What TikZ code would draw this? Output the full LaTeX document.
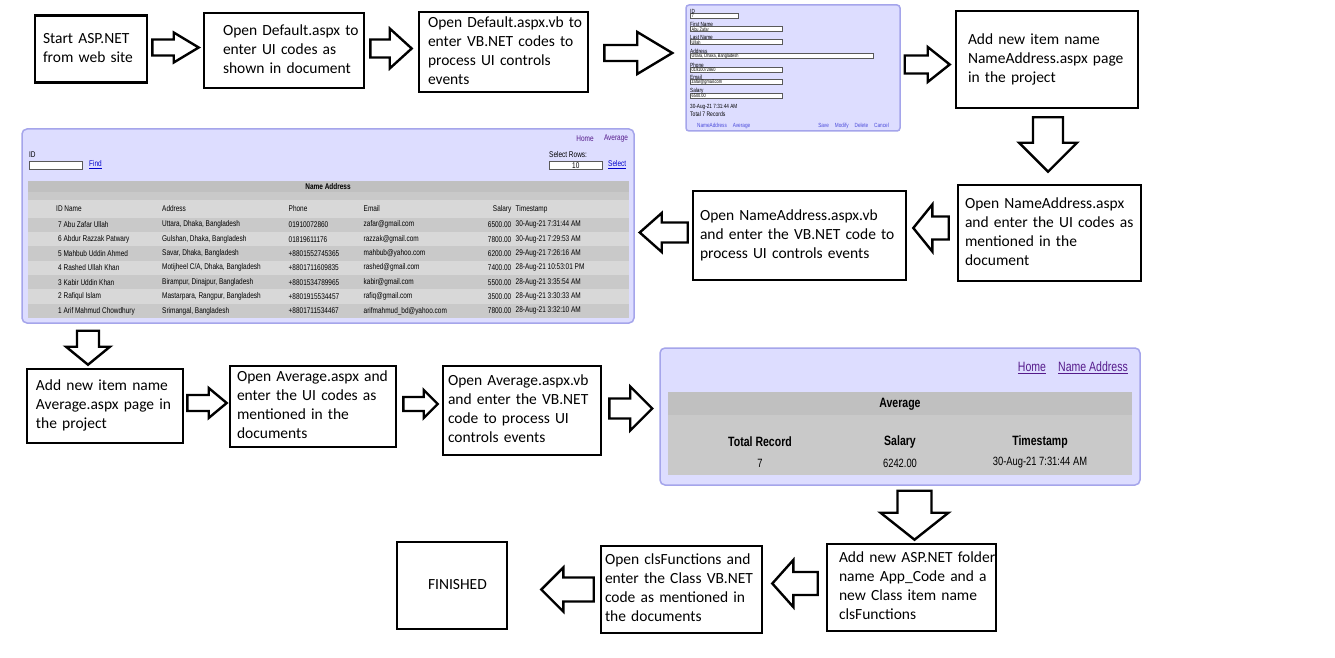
\documentclass[tikz,border=0pt]{standalone}
\usepackage{fontspec}
\usetikzlibrary{calc}
\newfontfamily\flowfont{Carlito}
\newfontfamily\shotfont[FakeStretch=0.78]{Liberation Sans}
\definecolor{shotbg}{RGB}{221,221,255}
\definecolor{shotedge}{RGB}{165,165,235}
\definecolor{bandhead}{RGB}{192,192,192}
\definecolor{banddark}{RGB}{201,201,201}
\definecolor{bandlight}{RGB}{216,216,216}
\definecolor{linkblue}{RGB}{0,0,204}
\definecolor{linkvisit}{RGB}{85,26,139}
\newcommand\boxpad[2]{\parindent=0pt\hspace*{#1pt}\begin{tabular}[c]{@{}l@{}}#2\end{tabular}}

\begin{document}
\begin{tikzpicture}[x=1pt,y=-1pt,
	stepbox/.style 2 args={draw,line width=2.6pt,fill=white,inner xsep=0pt,inner ysep=0pt,align=left,
		text width=#1pt,minimum width=#1pt,minimum height=#2pt,font=\flowfont\fontsize{15.5}{19}\selectfont},
	shot/.style={draw=shotedge,line width=1.5pt,fill=shotbg,rounded corners=5pt,inner sep=0pt},
	formfield/.style={draw=black!65,line width=0.5pt,fill=white,inner sep=0pt},
	shottiny/.style={font=\shotfont\fontsize{6}{7}\selectfont,inner sep=0pt,anchor=west},
	shotsmall/.style={font=\shotfont\fontsize{8.3}{9}\selectfont,inner sep=0pt},
	shotbig/.style={font=\shotfont\fontsize{13.5}{15}\selectfont,inner sep=0pt},
	fat/.style n args={3}{draw,line width=2.4pt,fill=white,
		to path={($(\tikztotarget)!#3pt!(\tikztostart)$) coordinate (fatb)
			($(\tikztostart)!#1pt!90:(\tikztotarget)$) -- ($(fatb)!#1pt!90:(\tikztotarget)$)
			-- ($(fatb)!#2pt!90:(\tikztotarget)$) -- (\tikztotarget)
			-- ($(fatb)!#2pt!-90:(\tikztotarget)$) -- ($(fatb)!#1pt!-90:(\tikztotarget)$)
			-- ($(\tikztostart)!#1pt!-90:(\tikztotarget)$) -- cycle}}]
	\path[use as bounding box,fill=white] (0,0) rectangle (1335,658);

	% steps
	\node[stepbox={112}{67}] (start) at (91,49) {\boxpad{8}{Start ASP.NET\\from web site}};
	\node[stepbox={160}{75}] (default) at (284,50.5) {\boxpad{19}{Open Default.aspx to\\enter UI codes as\\shown in document}};
	\node[stepbox={169}{80}] (defaultvb) at (503.5,52) {\boxpad{9}{Open Default.aspx.vb to\\enter VB.NET codes to\\process UI controls\\events}};
	\node[stepbox={182}{97}] (newna) at (1047,59.5) {\boxpad{12}{Add new item name\\NameAddress.aspx page\\in the project}};
	\node[stepbox={183}{96}] (naopen) at (1049.5,233) {\boxpad{7}{Open NameAddress.aspx\\and enter the UI codes as\\mentioned in the\\document}};
	\node[stepbox={213}{89}] (navb) at (799.5,235.5) {\boxpad{7}{Open NameAddress.aspx.vb\\and enter the VB.NET code to\\process UI controls events}};
	\node[stepbox={156}{74}] (newavg) at (105,406) {\boxpad{9}{Add new item name\\Average.aspx page in\\the project}};
	\node[stepbox={166}{81}] (avgopen) at (313,406.5) {\boxpad{7}{Open Average.aspx and\\enter the UI codes as\\mentioned in the\\documents}};
	\node[stepbox={158}{89}] (avgvb) at (522,410.5) {\boxpad{5}{Open Average.aspx.vb\\and enter the VB.NET\\code to process UI\\controls events}};
	\node[stepbox={169}{87}] (appcode) at (911.5,587.5) {\boxpad{12}{Add new ASP.NET folder\\name App\_Code and a\\new Class item name\\clsFunctions}};
	\node[stepbox={161}{87}] (clsopen) at (681.5,589.5) {\boxpad{4}{Open clsFunctions and\\enter the Class VB.NET\\code as mentioned in\\the documents}};
	\node[stepbox={110}{87}] (finished) at (452,585.5) {\boxpad{31}{FINISHED}};

	% screenshots
	\node[shot,rounded corners=3pt,minimum width=214pt,minimum height=126pt] (form) at (793,68) {};
	\node[shot,minimum width=612pt,minimum height=194pt] (list) at (328,226) {};
	\node[shot,minimum width=480pt,minimum height=137pt] (avgpage) at (900,416.5) {};

	\foreach \flab/\fy/\fw/\fval [count=\i] in {ID/11/48/7, First Name/24/92/Abu Zafar, Last Name/37/92/Ullah,
			Address/51/183/{Uttara, Dhaka, Bangladesh}, Phone/65/92/01910072860, Email/77/92/zafar@gmail.com, Salary/91/92/6500.00}{
		\node[shottiny] (fl\i) at (690,\fy) {\flab};
		\node[formfield,minimum width=\fw pt,minimum height=5pt,anchor=north west] (fb\i) at (690,\fy+2.5) {};
		\node[shottiny,font=\shotfont\fontsize{5}{6}\selectfont] (fv\i) at ($(fb\i.west)+(1.5,0)$) {\fval};
	}
	\node[shottiny] (fstamp) at (690,107) {30-Aug-21 7:31:44 AM};
	\node[shottiny,font=\shotfont\fontsize{6.5}{7}\selectfont] (ftotal) at (690,114.5) {Total 7 Records};
	\node[shottiny,text=linkblue!70] (fnav) at (697,126) {NameAddress\quad Average};
	\node[shottiny,text=linkblue!70,anchor=east] (fcmd) at (889,126) {Save\quad Modify\quad Delete\quad Cancel};

	\node[shotsmall,text=linkvisit] (lhome) at (585,139) {Home};
	\node[shotsmall,text=linkvisit] (laverage) at (616,139) {Average};
	\node[shotsmall,anchor=west] (lid) at (29,155) {ID};
	\node[formfield,minimum width=53pt,minimum height=8pt,anchor=north west] (lidbox) at (29,161) {};
	\node[shotsmall,anchor=west,text=linkblue] (lfind) at (89,165) {\underline{Find}};
	\node[shotsmall,anchor=west] (lrows) at (549,155) {Select Rows:};
	\node[formfield,minimum width=53pt,minimum height=8pt,anchor=north west] (lrowbox) at (549,161) {};
	\node[shotsmall] (lten) at (lrowbox) {10};
	\node[shotsmall,anchor=west,text=linkblue] (lselect) at (608,165) {\underline{Select}};
	\fill[bandhead] (28,181) rectangle (629,192);
	\fill[banddark] (28,192) rectangle (629,200);
	\fill[bandlight] (28,200) rectangle (629,217.6);
	\foreach \k in {0,2,4,6} \fill[banddark] (28,217.6+14.35*\k) rectangle (629,231.95+14.35*\k);
	\foreach \k in {1,3,5} \fill[bandlight] (28,217.6+14.35*\k) rectangle (629,231.95+14.35*\k);
	\node[shotsmall,font=\shotfont\bfseries\fontsize{8.3}{9}\selectfont] (lcap) at (328,186.5) {Name Address};
	\node[shotsmall,anchor=west] (hname) at (56,209) {ID Name};
	\node[shotsmall,anchor=west] (haddr) at (162,209) {Address};
	\node[shotsmall,anchor=west] (hphone) at (288.5,209) {Phone};
	\node[shotsmall,anchor=west] (hmail) at (363.5,209) {Email};
	\node[shotsmall,anchor=east] (hpay) at (511.5,209) {Salary};
	\node[shotsmall,anchor=west] (hstamp) at (515.5,209) {Timestamp};
	\foreach \rname/\raddr/\rphone/\rmail/\rpay/\rstamp [count=\k from 0] in {
			7 Abu Zafar Ullah/{Uttara, Dhaka, Bangladesh}/01910072860/zafar@gmail.com/6500.00/30-Aug-21 7:31:44 AM,
			6 Abdur Razzak Patwary/{Gulshan, Dhaka, Bangladesh}/01819611176/razzak@gmail.com/7800.00/30-Aug-21 7:29:53 AM,
			5 Mahbub Uddin Ahmed/{Savar, Dhaka, Bangladesh}/+8801552745365/mahbub@yahoo.com/6200.00/29-Aug-21 7:26:16 AM,
			4 Rashed Ullah Khan/{Motijheel C/A, Dhaka, Bangladesh}/+8801711609835/rashed@gmail.com/7400.00/28-Aug-21 10:53:01 PM,
			3 Kabir Uddin Khan/{Birampur, Dinajpur, Bangladesh}/+8801534789965/kabir@gmail.com/5500.00/28-Aug-21 3:35:54 AM,
			2 Rafiqul Islam/{Mastarpara, Rangpur, Bangladesh}/+8801915534457/rafiq@gmail.com/3500.00/28-Aug-21 3:30:33 AM,
			1 Arif Mahmud Chowdhury/{Srimangal, Bangladesh}/+8801711534467/arifmahmud\_bd@yahoo.com/7800.00/28-Aug-21 3:32:10 AM}{
		\pgfmathsetmacro\yy{224.8+14.35*\k}
		\node[shotsmall,anchor=west] (rn\k) at (58,\yy) {\rname};
		\node[shotsmall,anchor=west] (ra\k) at (162,\yy) {\raddr};
		\node[shotsmall,anchor=west] (rp\k) at (288.5,\yy) {\rphone};
		\node[shotsmall,anchor=west] (rm\k) at (363.5,\yy) {\rmail};
		\node[shotsmall,anchor=east] (rs\k) at (511.5,\yy) {\rpay};
		\node[shotsmall,anchor=west] (rt\k) at (515.5,\yy) {\rstamp};
	}

	\node[shotbig,text=linkvisit] (ahome) at (1032,368) {\underline{Home}};
	\node[shotbig,text=linkvisit] (aname) at (1093,368) {\underline{Name Address}};
	\fill[banddark] (668,392) rectangle (1132,475);
	\fill[bandhead] (668,392) rectangle (1132,415);
	\node[shotbig,font=\shotfont\bfseries\fontsize{13.5}{15}\selectfont] (acap) at (900,404) {Average};
	\foreach \ahead/\aval/\ax [count=\j] in {Total Record/7/760, Salary/6242.00/900, Timestamp/30-Aug-21 7:31:44 AM/1040}{
		\node[shotbig,font=\shotfont\bfseries\fontsize{13.5}{15}\selectfont] (ah\j) at (\ax,442) {\ahead};
		\node[shotbig,font=\shotfont\fontsize{12}{14}\selectfont] (av\j) at (\ax,463) {\aval};
	}

	% block arrows
	\path[fat={8}{15}{25}] ($(start.east)+(4,-1.5)$) to ($(start.east -| default.west)+(-4,-1.5)$);
	\path[fat={9}{20}{22}] ($(default.east)+(5,-2)$) to ($(default.east -| defaultvb.west)+(-6,-2)$);
	\path[fat={8}{21}{35}] ($(defaultvb.east)+(15,1)$) to ($(defaultvb.east -| form.west)+(-13,1)$);
	\path[fat={9}{17.5}{22}] ($(form.east)+(4,-3.5)$) to ($(form.east -| newna.west)+(-5,-3.5)$);
	\path[fat={15}{29}{29}] ($(newna.south)+(1,8)$) to ($(newna.south |- naopen.north)+(1,-12)$);
	\path[fat={11.5}{23.5}{19}] ($(naopen.west)+(-8,-5)$) to ($(naopen.west -| navb.east)+(6,-5)$);
	\path[fat={10}{19.5}{22}] ($(navb.west)+(-4,-3)$) to ($(navb.west -| list.east)+(5,-3)$);
	\path[fat={11}{22}{18}] ($(newavg.north |- list.south)+(-17,7)$) to ($(newavg.north)+(-17,-3)$);
	\path[fat={8}{15}{18}] ($(newavg.east)+(3,-3)$) to ($(newavg.east -| avgopen.west)+(-2,-3)$);
	\path[fat={7}{14}{14}] ($(avgopen.east)+(6,-2.5)$) to ($(avgopen.east -| avgvb.west)+(-4,-2.5)$);
	\path[fat={10}{22}{22}] ($(avgvb.east)+(7,-2)$) to ($(avgvb.east -| avgpage.west)+(-7,-2)$);
	\path[fat={17}{34}{27}] ($(appcode.north |- avgpage.south)+(3,5)$) to ($(appcode.north)+(3,-3)$);
	\path[fat={11.5}{23.5}{21}] ($(appcode.west)+(-8,-4)$) to ($(appcode.west -| clsopen.east)+(9,-4)$);
	\path[fat={12}{22}{22}] ($(clsopen.west)+(-6,0)$) to ($(clsopen.west -| finished.east)+(33,0)$);
\end{tikzpicture}
\end{document}
